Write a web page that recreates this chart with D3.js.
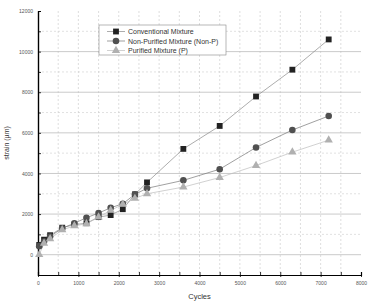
<!DOCTYPE html>
<html>
<head>
<meta charset="utf-8">
<script src="https://cdn.jsdelivr.net/npm/d3@7"></script>
<style>
  body { margin: 0; background: #fff; }
  text { font-family: "Liberation Sans", Arial, sans-serif; }
</style>
</head>
<body>
<svg id="chart" width="378" height="308"></svg>
<script>
// Data
const cycles = [30, 150, 300, 600, 900, 1200, 1500, 1800, 2100, 2400, 2700, 3600, 4500, 5400, 6300, 7200];
const conventional = [480, 740, 960, 1330, 1480, 1550, 1850, 1950, 2240, 2970, 3560, 5210, 6340, 7790, 9110, 10600];
const nonPurified = [420, 650, 900, 1300, 1550, 1820, 2050, 2310, 2510, 2970, 3270, 3660, 4210, 5280, 6140, 6830];
const purified = [0, 560, 780, 1220, 1420, 1520, 1850, 2180, 2480, 2770, 3000, 3330, 3800, 4390, 5050, 5640];
const seriesNames = ["Conventional Mixture", "Non-Purified Mixture (Non-P)", "Purified Mixture (P)"];
const xTicks = [0, 1000, 2000, 3000, 4000, 5000, 6000, 7000, 8000];
const yTicks = [0, 2000, 4000, 6000, 8000, 10000, 12000];

const svg = d3.select("#chart");
const plotLeft = 38, plotRight = 361, plotTop = 11, plotBottom = 275;

const x = d3.scaleLinear().domain([0, 8000]).range([plotLeft, plotRight]);
const y = d3.scaleLinear().domain([-1000, 12000]).range([plotBottom, plotTop]);
const fmt = d3.format("d");

// Grid: dashed verticals every 500, solid horizontals at majors, dotted at minors
const grid = svg.append("g");
grid.selectAll(".vg")
    .data(d3.range(500, 8000, 500))
    .enter().append("line")
    .attr("x1", d => x(d)).attr("x2", d => x(d))
    .attr("y1", plotTop).attr("y2", plotBottom)
    .style("stroke", "#c8c8c8")
    .style("stroke-width", 0.6)
    .style("stroke-dasharray", "2,2");

grid.selectAll(".hminor")
    .data(d3.range(1000, 12000, 2000))
    .enter().append("line")
    .attr("x1", plotLeft).attr("x2", plotRight)
    .attr("y1", d => y(d)).attr("y2", d => y(d))
    .style("stroke", "#cccccc")
    .style("stroke-width", 0.6)
    .style("stroke-dasharray", "2,2");

grid.selectAll(".hmajor")
    .data(d3.range(0, 12000, 2000))
    .enter().append("line")
    .attr("x1", plotLeft).attr("x2", plotRight)
    .attr("y1", d => y(d)).attr("y2", d => y(d))
    .style("stroke", "#bdbdbd")
    .style("stroke-width", 0.8);

// Axes
const xAxis = svg.append("g").attr("transform", `translate(0,${plotBottom})`);
xAxis.call(d3.axisBottom(x).tickValues(xTicks).tickFormat(fmt).tickSizeInner(-3).tickSizeOuter(0).tickPadding(6));
xAxis.selectAll(".tick line").clone().attr("y2", 2);
xAxis.append("g").call(d3.axisBottom(x).tickValues(d3.range(500, 8000, 1000)).tickSize(-3).tickFormat(""));

const yAxis = svg.append("g").attr("transform", `translate(${plotLeft},0)`);
yAxis.call(d3.axisLeft(y).tickValues(yTicks).tickFormat(fmt).tickSizeInner(-3).tickSizeOuter(0).tickPadding(5));
yAxis.append("g").call(d3.axisLeft(y).tickValues(d3.range(-1000, 12000, 2000)).tickSize(-3).tickFormat(""));

svg.selectAll(".domain").style("stroke", "#000").style("stroke-width", 1.2);
svg.selectAll(".tick line").style("stroke", "#000").style("stroke-width", 0.8);
svg.selectAll(".tick text")
    .style("font-size", "5px")
    .style("fill", "#555");

// Axis titles
svg.append("text")
    .attr("x", (plotLeft + plotRight) / 2).attr("y", 299)
    .attr("text-anchor", "middle")
    .style("font-size", "7.5px").style("fill", "#333")
    .text("Cycles");

svg.append("text")
    .attr("transform", `translate(9,${(plotTop + plotBottom) / 2}) rotate(-90)`)
    .attr("text-anchor", "middle")
    .style("font-size", "7px").style("fill", "#333")
    .text("strain (µm)");

// Series
const series = [
    { name: seriesNames[0], values: conventional, shape: d3.symbolSquare, size: 34, fill: "#222", line: "#8a8a8a" },
    { name: seriesNames[1], values: nonPurified, shape: d3.symbolCircle, size: 34, fill: "#505050", line: "#777" },
    { name: seriesNames[2], values: purified, shape: d3.symbolTriangle, size: 30, fill: "#b0b0b0", line: "#bdbdbd" }
];

const line = d3.line().x(d => x(d[0])).y(d => y(d[1]));

series.forEach(s => {
    const pts = cycles.map((c, i) => [c, s.values[i]]);
    svg.append("path")
        .datum(pts)
        .attr("d", line)
        .style("fill", "none")
        .style("stroke", s.line)
        .style("stroke-width", 0.7);
});

series.forEach(s => {
    const pts = cycles.map((c, i) => [c, s.values[i]]);
    svg.append("g").selectAll("path")
        .data(pts)
        .enter().append("path")
        .attr("transform", d => `translate(${x(d[0])},${y(d[1])})`)
        .attr("d", d3.symbol().type(s.shape).size(s.size))
        .style("fill", s.fill);
});

// Legend
const legend = svg.append("g").attr("transform", "translate(99,25)");
legend.append("rect")
    .attr("width", 127).attr("height", 30)
    .style("fill", "#fff")
    .style("stroke", "#888")
    .style("stroke-width", 0.6);

series.forEach((s, i) => {
    const ly = 6.5 + i * 9.5;
    legend.append("line")
        .attr("x1", 8).attr("x2", 26)
        .attr("y1", ly).attr("y2", ly)
        .style("stroke", s.line).style("stroke-width", 0.7);
    legend.append("path")
        .attr("transform", `translate(17,${ly})`)
        .attr("d", d3.symbol().type(s.shape).size(s.size))
        .style("fill", s.fill);
    legend.append("text")
        .attr("x", 29).attr("y", ly + 2.5)
        .style("font-size", "7px").style("fill", "#333")
        .text(s.name);
});
</script>
</body>
</html>
